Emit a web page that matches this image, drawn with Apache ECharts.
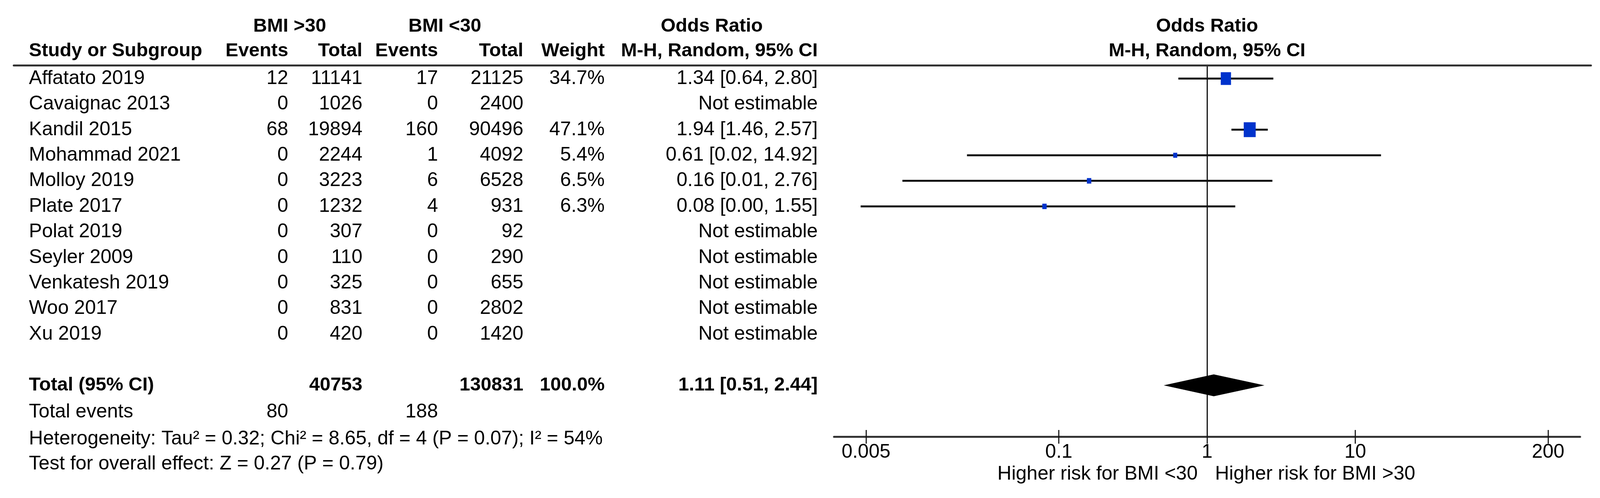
<!DOCTYPE html>
<html>
<head>
<meta charset="utf-8">
<script src="https://cdn.jsdelivr.net/npm/echarts/dist/echarts.min.js"></script>
<style>html,body{margin:0;padding:0;background:#fff;overflow:hidden}#c{width:100vw;height:100vh}</style>
</head>
<body>
<div id="c"></div>
<script>
// ---------------- DATA ----------------
const studies = ['Affatato 2019','Cavaignac 2013','Kandil 2015','Mohammad 2021','Molloy 2019','Plate 2017','Polat 2019','Seyler 2009','Venkatesh 2019','Woo 2017','Xu 2019'];
const eventsHigh = [12, 0, 68, 0, 0, 0, 0, 0, 0, 0, 0];
const totalHigh  = [11141, 1026, 19894, 2244, 3223, 1232, 307, 110, 325, 831, 420];
const eventsLow  = [17, 0, 160, 1, 6, 4, 0, 0, 0, 0, 0];
const totalLow   = [21125, 2400, 90496, 4092, 6528, 931, 92, 290, 655, 2802, 1420];
const weights    = [34.7, null, 47.1, 5.4, 6.5, 6.3, null, null, null, null, null];
const oddsRatio  = [1.34, null, 1.94, 0.61, 0.16, 0.08, null, null, null, null, null];
const ciLow      = [0.64, null, 1.46, 0.024, 0.0088, 0.0046, null, null, null, null, null];
const ciHigh     = [2.80, null, 2.57, 14.92, 2.76, 1.55, null, null, null, null, null];
const pooledTotals = [40753, 130831];
const pooledEvents = [80, 188];
const pooledOR = [1.11, 0.51, 2.44]; // estimate, lower, upper
const heterogeneityText = 'Heterogeneity: Tau² = 0.32; Chi² = 8.65, df = 4 (P = 0.07); I² = 54%';
const overallText = 'Test for overall effect: Z = 0.27 (P = 0.79)';
const tickLabels = ['0.005', '0.1', '1', '10', '200'];
const favourLeft = 'Higher risk for BMI <30';
const favourRight = 'Higher risk for BMI >30';

// ---------------- LAYOUT (design units = reference pixels) ----------------
const W = 4424, H = 1274;
const el = document.getElementById('c');
const SX = (el.clientWidth || W) / W, SY = (el.clientHeight || H) / H;
const sx = v => v * SX, sy = v => v * SY;
const FONT = 'Liberation Sans', FS = 50 * SY, FSB = 49 * SY;
const ROW0 = 201, ROWSTEP = 65.4;
const TOP = 167, AXIS_Y = 1117;
const yMin = (TOP - ROW0) / ROWSTEP, yMax = (AXIS_Y - ROW0) / ROWSTEP;
const PLOT_L = 2306, PLOT_R = 4369, LOGSPAN = 2.517;
const LINE_L = 38, LINE_R = 4399;
const GROUP_ROW = (67 - ROW0) / ROWSTEP, SUB_ROW = (130 - ROW0) / ROWSTEP;
const TOTAL_ROW = 12, EVENTS_ROW = 13.05, HET_ROW = 14.1, TEST_ROW = 15.08;
const FAVOUR_ROW = (1213 - ROW0) / ROWSTEP;
const COL = {name: 80, e1: 797, t1: 1002, e2: 1211, t2: 1447, w: 1672, ci: 2261, g1: 801, g2: 1230, g3: 1968};
const BOX_MAX = 38, BOX_ASPECT = 0.87, DIAMOND_HALF = 28;
const BLUE = '#0033cc';

const fmtCI = (o, l, h) => o.toFixed(2) + ' [' + l.toFixed(2) + ', ' + h.toFixed(2) + ']';

// ---------------- TABLE TEXT ----------------
const tableItems = [];
function add(x, row, text, align, bold) { tableItems.push({x, row, text: String(text), align, bold}); }
add(COL.g1, GROUP_ROW, 'BMI >30', 'center', true);
add(COL.g2, GROUP_ROW, 'BMI <30', 'center', true);
add(COL.g3, GROUP_ROW, 'Odds Ratio', 'center', true);
add(COL.name, SUB_ROW, 'Study or Subgroup', 'left', true);
add(COL.e1, SUB_ROW, 'Events', 'right', true);
add(COL.t1, SUB_ROW, 'Total', 'right', true);
add(COL.e2, SUB_ROW, 'Events', 'right', true);
add(COL.t2, SUB_ROW, 'Total', 'right', true);
add(COL.w, SUB_ROW, 'Weight', 'right', true);
add(COL.ci, SUB_ROW, 'M-H, Random, 95% CI', 'right', true);
studies.forEach((st, i) => {
  add(COL.name, i, st, 'left', false);
  add(COL.e1, i, eventsHigh[i], 'right', false);
  add(COL.t1, i, totalHigh[i], 'right', false);
  add(COL.e2, i, eventsLow[i], 'right', false);
  add(COL.t2, i, totalLow[i], 'right', false);
  if (weights[i] != null) add(COL.w, i, weights[i].toFixed(1) + '%', 'right', false);
  add(COL.ci, i, oddsRatio[i] != null ? fmtCI(oddsRatio[i], ciLow[i], ciHigh[i]) : 'Not estimable', 'right', false);
});
add(COL.name, TOTAL_ROW, 'Total (95% CI)', 'left', true);
add(COL.t1, TOTAL_ROW, pooledTotals[0], 'right', true);
add(COL.t2, TOTAL_ROW, pooledTotals[1], 'right', true);
add(COL.w, TOTAL_ROW, '100.0%', 'right', true);
add(COL.ci, TOTAL_ROW, fmtCI(pooledOR[0], pooledOR[1], pooledOR[2]), 'right', true);
add(COL.name, EVENTS_ROW, 'Total events', 'left', false);
add(COL.e1, EVENTS_ROW, pooledEvents[0], 'right', false);
add(COL.e2, EVENTS_ROW, pooledEvents[1], 'right', false);
add(COL.name, HET_ROW, heterogeneityText, 'left', false);
add(COL.name, TEST_ROW, overallText, 'left', false);

const plotItems = [
  {x: 0, row: GROUP_ROW, text: 'Odds Ratio', align: 'center', bold: true, dx: 0},
  {x: 0, row: SUB_ROW, text: 'M-H, Random, 95% CI', align: 'center', bold: true, dx: 0},
  {x: 0, row: FAVOUR_ROW, text: favourLeft, align: 'right', bold: false, dx: -26},
  {x: 0, row: FAVOUR_ROW, text: favourRight, align: 'left', bold: false, dx: 22}
];

function textSeries(items, gi) {
  return {
    type: 'custom', xAxisIndex: gi, yAxisIndex: gi, silent: true, clip: false, z: 10,
    data: items.map(it => [it.x, it.row]),
    renderItem: (params, api) => {
      const it = items[params.dataIndex];
      const p = api.coord([it.x, it.row]);
      return {type: 'text', x: p[0] + sx(it.dx || 0), y: p[1],
        style: {text: it.text, align: it.align, verticalAlign: 'middle', fontFamily: FONT,
                fontSize: it.bold ? FSB : FS, fontWeight: it.bold ? 'bold' : 'normal', fill: '#000'}};
    }
  };
}

// ---------------- FOREST MARKS ----------------
const est = [];
studies.forEach((st, i) => { if (oddsRatio[i] != null) est.push(i); });
const ciData = est.map(i => [Math.log10(ciLow[i]), Math.log10(ciHigh[i]), i]);
const boxData = est.map(i => [Math.log10(oddsRatio[i]), i, weights[i]]);
const maxW = Math.max(...est.map(i => weights[i]));
const diamondData = [[Math.log10(pooledOR[1]), Math.log10(pooledOR[0]), Math.log10(pooledOR[2]), TOTAL_ROW]];
const tickVals = tickLabels.map(t => Math.log10(parseFloat(t)));
const noAxisParts = {axisLabel: {show: false}, splitLine: {show: false}};

const option = {
  backgroundColor: '#fff',
  animation: false,
  grid: [
    {left: sx(LINE_L), right: sx(W - LINE_R), top: sy(TOP), bottom: sy(H - AXIS_Y)},
    {left: sx(PLOT_L), right: sx(W - PLOT_R), top: sy(TOP), bottom: sy(H - AXIS_Y)}
  ],
  xAxis: [
    {gridIndex: 0, type: 'value', min: LINE_L, max: LINE_R, position: 'top',
     axisLine: {show: true, onZero: false, lineStyle: {color: '#333', width: sy(5)}},
     axisTick: {show: false}, ...noAxisParts},
    {gridIndex: 1, type: 'value', min: -LOGSPAN, max: LOGSPAN, position: 'bottom',
     axisLine: {show: true, onZero: false, lineStyle: {color: '#333', width: sy(5)}},
     axisTick: {show: true, inside: false, length: sy(18), customValues: tickVals, lineStyle: {color: '#111', width: sx(3)}},
     axisLabel: {show: true, customValues: tickVals, margin: sy(15), fontFamily: FONT, fontSize: FS, color: '#000',
       formatter: v => { const k = tickVals.findIndex(t => Math.abs(t - v) < 1e-6); return k >= 0 ? tickLabels[k] : ''; }},
     splitLine: {show: false}},
    {gridIndex: 1, type: 'value', min: -LOGSPAN, max: LOGSPAN, position: 'bottom',
     axisLine: {show: false, onZero: false},
     axisTick: {show: true, inside: true, length: sy(17), customValues: tickVals, lineStyle: {color: '#111', width: sx(3)}},
     ...noAxisParts}
  ],
  yAxis: [
    {gridIndex: 0, type: 'value', inverse: true, min: yMin, max: yMax, show: false},
    {gridIndex: 1, type: 'value', inverse: true, min: yMin, max: yMax,
     axisLine: {show: true, onZero: true, lineStyle: {color: '#000', width: sx(3)}},
     axisTick: {show: false}, ...noAxisParts}
  ],
  series: [
    textSeries(tableItems, 0),
    textSeries(plotItems, 1),
    {type: 'custom', xAxisIndex: 1, yAxisIndex: 1, silent: true, z: 3,
     encode: {x: [0, 1], y: 2}, data: ciData,
     renderItem: (params, api) => {
       const a = api.coord([api.value(0), api.value(2)]);
       const b = api.coord([api.value(1), api.value(2)]);
       return {type: 'line', shape: {x1: a[0], y1: a[1], x2: b[0], y2: b[1]}, style: {stroke: '#111', lineWidth: sy(5)}};
     }},
    {type: 'scatter', xAxisIndex: 1, yAxisIndex: 1, silent: true, z: 4, symbol: 'rect',
     data: boxData,
     symbolSize: v => { const b = BOX_MAX * Math.sqrt(v[2] / maxW); return [sx(b * BOX_ASPECT), sy(b)]; },
     itemStyle: {color: BLUE, opacity: 1}},
    {type: 'custom', xAxisIndex: 1, yAxisIndex: 1, silent: true, z: 4,
     encode: {x: [0, 1, 2], y: 3}, data: diamondData,
     renderItem: (params, api) => {
       const l = api.coord([api.value(0), api.value(3)]);
       const c = api.coord([api.value(1), api.value(3)]);
       const r = api.coord([api.value(2), api.value(3)]);
       return {type: 'polygon', shape: {points: [[l[0], l[1]], [c[0], c[1] - sy(DIAMOND_HALF)], [r[0], r[1]], [c[0], c[1] + sy(DIAMOND_HALF)]]},
               style: {fill: '#000'}};
     }}
  ]
};
const chart = echarts.init(el);
chart.setOption(option);
</script>
</body>
</html>
